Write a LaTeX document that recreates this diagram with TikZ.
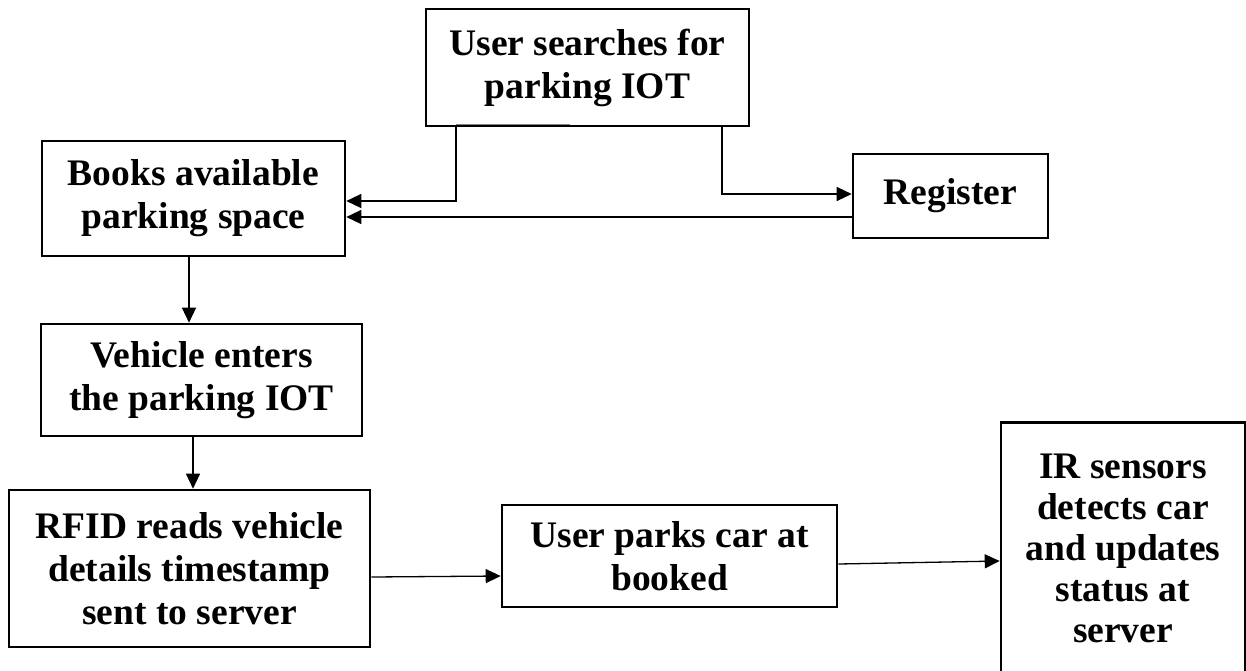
\documentclass[tikz,border=0pt]{standalone}
\usepackage{fontspec}
\setmainfont{Liberation Serif}
\usetikzlibrary{arrows.meta}
\tikzset{
  stepbox/.style={draw=black, line width=2.6pt, rectangle, align=center, inner sep=0pt,
    font=\fontsize{37.5}{43}\selectfont\bfseries},
  arr/.style={draw=black, line width=1.3pt, -{Triangle[length=15pt,width=14pt]}},
}
\begin{document}
\begin{tikzpicture}[x=1pt,y=-1pt]
\useasboundingbox (0,0) rectangle (1246,670);
\clip (0,0) rectangle (1246,670);

% process boxes
\node[stepbox, minimum width=323pt, minimum height=117pt] (search) at (587.5,67.5) {User searches for\\parking IOT};
\node[stepbox, minimum width=303pt, minimum height=115pt] (books) at (193.5,198.5) {Books available\\parking space};
\node[stepbox, minimum width=195pt, minimum height=84pt] (register) at (950.5,196) {Register};
\node[stepbox, minimum width=321pt, minimum height=112pt] (vehicle) at (201.5,380) {Vehicle enters\\the parking IOT};
\node[stepbox, minimum width=361pt, minimum height=157pt] (rfid) at (189.5,568.5) {RFID reads vehicle\\details timestamp\\sent to server};
\node[stepbox, minimum width=335pt, minimum height=102pt] (parks) at (669.5,556) {User parks car at\\booked};
\node[stepbox, anchor=north, minimum width=244pt, inner ysep=31.2pt, text depth=28pt,
  font=\fontsize{37.5}{41}\selectfont\bfseries] (ir) at (1123,421)
  {IR sensors\\detects car\\and updates\\status at\\server};

% short grey stroke under the top box
\draw[gray, line width=1.3pt] ([yshift=3pt]search.south -| 456,0) -- ([yshift=3pt]search.south -| 570,0);

% connectors
\draw[arr] (search.south -| 456,0) |- ([yshift=-2.5pt]books.east);
\draw[arr] (search.south -| 722,0) |- ([yshift=2pt]register.west);
\draw[arr] (register.west |- 0,217) -- (books.east |- 0,217);
\draw[arr] (books.south -| 189,0) -- (vehicle.north -| 189,0);
\draw[arr] (vehicle.south -| 193,0) -- (rfid.north -| 193,0);
\draw[arr] (rfid.east |- 0,577) -- (parks.west |- 0,576);
\draw[arr] (parks.east |- 0,564) -- (ir.west |- 0,561);
\end{tikzpicture}
\end{document}
